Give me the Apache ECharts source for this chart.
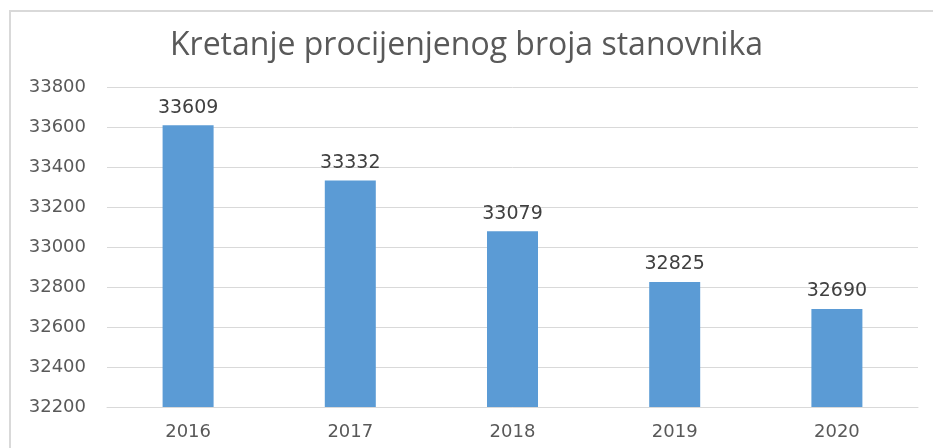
<!DOCTYPE html>
<html>
<head>
<meta charset="utf-8">
<script src="https://cdn.jsdelivr.net/npm/echarts@6/dist/echarts.min.js"></script>
<style>
  html, body { margin: 0; padding: 0; background: #fff; overflow: hidden; }
  #chart { width: 933px; height: 448px; }
</style>
</head>
<body>
<div id="chart"></div>
<script>
const years = ['2016', '2017', '2018', '2019', '2020']
const population = [33609, 33332, 33079, 32825, 32690]
const yMin = 32200
const yMax = 33800
const yStep = 200

const chart = echarts.init(document.getElementById('chart'))
chart.setOption({
  animation: false,
  graphic: [
    {
      // outer chart frame, cut off at the right and bottom like the source image
      type: 'polyline',
      silent: true,
      shape: { points: [[10, 460], [10, 11], [933, 11]] },
      style: { fill: null, stroke: '#d9d9d9', lineWidth: 2 }
    }
  ],
  title: {
    text: 'Kretanje procijenjenog broja stanovnika',
    left: 'center',
    top: 25,
    textStyle: {
      fontFamily: 'Open Sans',
      fontSize: 32,
      fontWeight: 'normal',
      color: '#595959'
    }
  },
  grid: {
    left: 107,
    right: 15,
    top: 87,
    bottom: 41
  },
  xAxis: {
    type: 'category',
    data: years,
    axisLine: { lineStyle: { color: '#d9d9d9' } },
    axisTick: { show: false },
    axisLabel: {
      margin: 16,
      fontFamily: 'DejaVu Sans',
      fontSize: 18,
      color: '#595959'
    }
  },
  yAxis: {
    type: 'value',
    min: yMin,
    max: yMax,
    interval: yStep,
    axisLine: { show: false },
    axisTick: { show: false },
    splitLine: { lineStyle: { color: '#d9d9d9' } },
    axisLabel: {
      margin: 21,
      fontFamily: 'DejaVu Sans',
      fontSize: 18,
      color: '#595959',
      formatter: function(v) { return String(v) }
    }
  },
  series: [
    {
      type: 'bar',
      data: population,
      barWidth: 51,
      itemStyle: { color: '#5b9bd5' },
      label: {
        show: true,
        position: 'top',
        distance: 8,
        fontFamily: 'DejaVu Sans',
        fontSize: 19,
        color: '#404040'
      }
    }
  ]
})
</script>
</body>
</html>
